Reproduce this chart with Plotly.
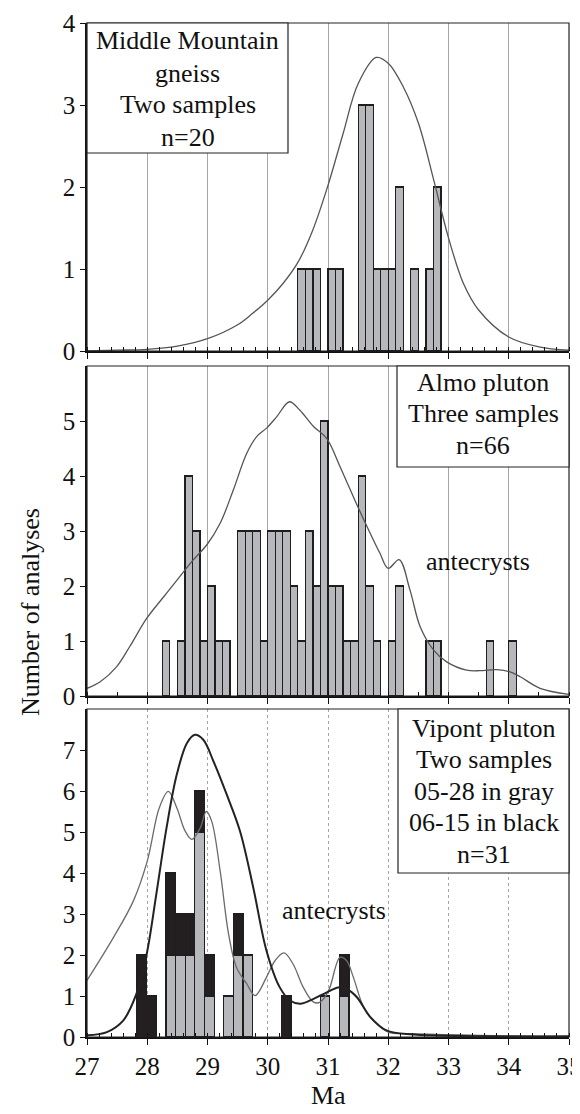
import plotly.graph_objects as go

# ---------------- data ----------------
# Top panel: Middle Mountain gneiss (bin width 0.125 Ma)
mm_bin_left = [30.5, 30.625, 30.75, 31.0, 31.125, 31.5, 31.625, 31.75, 31.875, 32.0, 32.125, 32.375, 32.625, 32.75]
mm_counts = [1, 1, 1, 1, 1, 3, 3, 1, 1, 1, 2, 1, 1, 2]
mm_curve_x = [27.0, 27.5, 28.0, 28.5, 29.0, 29.5, 29.75, 30.0, 30.25, 30.5, 30.75, 31.0, 31.25, 31.5, 31.8,
              32.0, 32.25, 32.5, 32.75, 33.0, 33.25, 33.5, 34.0, 34.5, 35.0]
mm_curve_y = [0.0, 0.01, 0.02, 0.06, 0.15, 0.32, 0.46, 0.62, 0.82, 1.08, 1.48, 2.02, 2.65, 3.26, 3.58,
              3.51, 3.22, 2.78, 2.1, 1.38, 0.82, 0.5, 0.17, 0.05, 0.01]

# Middle panel: Almo pluton (bin width 0.125 Ma)
al_bin_left = [28.25, 28.5, 28.625, 28.75, 28.875, 29.0, 29.125, 29.25, 29.5, 29.625, 29.75, 29.875,
               30.0, 30.125, 30.25, 30.375, 30.5, 30.625, 30.75, 30.875, 31.0, 31.125, 31.25, 31.375,
               31.5, 31.625, 31.75, 32.0, 32.125, 32.625, 32.75, 33.625, 34.0]
al_counts = [1, 1, 4, 3, 1, 2, 1, 1, 3, 3, 3, 1,
             3, 3, 3, 2, 1, 3, 2, 5, 2, 2, 1, 1,
             4, 2, 1, 1, 2, 1, 1, 1, 1]
al_curve_x = [27.0, 27.22, 27.49, 27.71, 27.99, 28.27, 28.54, 28.76, 28.99, 29.21, 29.43, 29.65,
              29.82, 29.98, 30.15, 30.36, 30.53, 30.76, 30.98, 31.2, 31.47, 31.70, 31.86, 32.0,
              32.18, 32.36, 32.53, 32.75, 32.97, 33.3, 33.52, 33.8, 34.02, 34.19, 34.52, 35.0]
al_curve_y = [0.14, 0.26, 0.53, 0.9, 1.41, 1.8, 2.17, 2.47, 2.75, 3.14, 3.75, 4.41,
              4.72, 4.87, 5.08, 5.35, 5.2, 4.9, 4.68, 4.17, 3.5, 2.96, 2.6, 2.32,
              2.48, 1.93, 1.26, 0.84, 0.62, 0.47, 0.46, 0.48, 0.44, 0.35, 0.14, 0.03]

# Bottom panel: Vipont pluton (bin width 0.16 Ma), 05-28 gray stacked under 06-15 black
vp_bin_left = [27.83, 27.99, 28.31, 28.47, 28.63, 28.79, 28.95, 29.27, 29.43, 29.59, 30.23, 30.87, 31.19]
vp_gray = [0, 0, 2, 2, 2, 5, 1, 1, 2, 2, 0, 1, 1]
vp_black = [2, 1, 2, 1, 1, 1, 1, 0, 1, 0, 1, 0, 1]
vp_gray_curve_x = [27.0, 27.44, 27.77, 28.0, 28.2, 28.35, 28.49, 28.63, 28.74, 28.88, 28.98, 29.07,
                   29.21, 29.35, 29.48, 29.65, 29.79, 29.98, 30.12, 30.27, 30.42, 30.59, 30.76, 30.87,
                   31.01, 31.2, 31.31, 31.42, 31.59, 31.75, 32.0, 32.42, 33.52, 35.0]
vp_gray_curve_y = [1.38, 2.43, 3.32, 4.29, 5.59, 5.99, 5.59, 5.02, 4.82, 5.1, 5.5, 5.26,
                   4.05, 2.51, 1.7, 1.3, 1.01, 1.46, 1.86, 2.05, 1.78, 1.21, 0.85, 0.85,
                   1.13, 1.94, 1.86, 1.46, 0.73, 0.4, 0.12, 0.08, 0.04, 0.01]
vp_black_curve_x = [27.0, 27.33, 27.6, 27.82, 27.99, 28.15, 28.32, 28.49, 28.66, 28.79, 28.93, 29.1,
                    29.32, 29.54, 29.76, 29.98, 30.2, 30.37, 30.54, 30.76, 30.98, 31.17, 31.31, 31.48,
                    31.7, 31.97, 32.42, 35.0]
vp_black_curve_y = [0.04, 0.12, 0.4, 1.05, 2.02, 3.48, 5.1, 6.4, 7.17, 7.37, 7.25, 6.72,
                    5.91, 5.02, 3.64, 2.1, 1.21, 0.89, 0.81, 0.93, 1.09, 1.21, 1.17, 0.97,
                    0.49, 0.16, 0.06, 0.02]

x_ticks = [27, 28, 29, 30, 31, 32, 33, 34, 35]

# ---------------- styling / layout ----------------
PAGE_OFF = 8            # browser body margin
W, H = 580 - PAGE_OFF, 1114 - PAGE_OFF
L, R, T, B = 87, 569, 23, 1037   # plot area in page pixels
FONT = "Liberation Serif"
BAR_GRAY = "#b6b8bc"
BAR_BLACK = "#231f20"
EDGE = "#1e1e1e"


def px(x):
    return (x - L) / (R - L)


def py(y):
    return (B - y) / (B - T)


def centers(lefts, w):
    return [v + w / 2 for v in lefts]


fig = go.Figure()

# top panel
fig.add_trace(go.Bar(x=centers(mm_bin_left, 0.125), y=mm_counts, width=0.125,
                     marker=dict(color=BAR_GRAY, line=dict(color=EDGE, width=1.2)),
                     xaxis="x", yaxis="y", showlegend=False))
fig.add_trace(go.Scatter(x=mm_curve_x, y=mm_curve_y, mode="lines",
                         line=dict(color="#555555", width=1.3, shape="spline"),
                         xaxis="x", yaxis="y", showlegend=False))
# middle panel
fig.add_trace(go.Bar(x=centers(al_bin_left, 0.125), y=al_counts, width=0.125,
                     marker=dict(color=BAR_GRAY, line=dict(color=EDGE, width=1.2)),
                     xaxis="x2", yaxis="y2", showlegend=False))
fig.add_trace(go.Scatter(x=al_curve_x, y=al_curve_y, mode="lines",
                         line=dict(color="#555555", width=1.3, shape="spline"),
                         xaxis="x2", yaxis="y2", showlegend=False))
# bottom panel
fig.add_trace(go.Bar(x=centers(vp_bin_left, 0.16), y=vp_gray, width=0.16,
                     marker=dict(color=BAR_GRAY, line=dict(color=EDGE, width=1.2)),
                     xaxis="x3", yaxis="y3", showlegend=False))
fig.add_trace(go.Bar(x=centers(vp_bin_left, 0.16), y=vp_black, width=0.16,
                     marker=dict(color=BAR_BLACK, line=dict(color=EDGE, width=1.2)),
                     xaxis="x3", yaxis="y3", showlegend=False))
fig.add_trace(go.Scatter(x=vp_gray_curve_x, y=vp_gray_curve_y, mode="lines",
                         line=dict(color="#6a6a6a", width=1.3, shape="spline"),
                         xaxis="x3", yaxis="y3", showlegend=False))
fig.add_trace(go.Scatter(x=vp_black_curve_x, y=vp_black_curve_y, mode="lines",
                         line=dict(color="#222222", width=2, shape="spline"),
                         xaxis="x3", yaxis="y3", showlegend=False))

tickfont = dict(family=FONT, size=25, color="#111111")


def xaxis(domain_anchor, minor_dtick, show_labels, griddash="solid"):
    return dict(range=[27, 35], domain=[0, 1], anchor=domain_anchor, automargin=False,
                tickvals=x_ticks, ticks="outside", ticklen=6, tickwidth=1.2, tickcolor="#111",
                showticklabels=show_labels, tickfont=tickfont, ticklabeloverflow="allow",
                showgrid=True, gridcolor="#a6a6a6", gridwidth=1, griddash=griddash,
                showline=True, linecolor="#111111", linewidth=2, zeroline=False,
                minor=dict(ticks="inside", dtick=minor_dtick, ticklen=4, tickwidth=1,
                           tickcolor="#111", showgrid=False))


def yaxis(domain, rng, tickvals, anchor):
    return dict(range=rng, domain=domain, anchor=anchor, tickvals=tickvals, automargin=False,
                ticks="outside", ticklen=5, tickwidth=1.2, tickcolor="#111",
                tickfont=tickfont, showgrid=False, zeroline=False,
                showline=True, linecolor="#111111", linewidth=1.6)


fig.update_layout(
    width=W, height=H,
    margin=dict(l=L - PAGE_OFF, r=580 - R, t=T - PAGE_OFF, b=1114 - B, autoexpand=False),
    paper_bgcolor="white", plot_bgcolor="white",
    barmode="stack", showlegend=False,
    font=dict(family=FONT, color="#111111"),
    xaxis=xaxis("y", 0.2, False),
    yaxis=yaxis([py(351), 1.0], [0, 4], [0, 1, 2, 3, 4], "x"),
    xaxis2=xaxis("y2", 0.5, False),
    yaxis2=yaxis([py(696), py(366)], [0, 6], [0, 1, 2, 3, 4, 5], "x2"),
    xaxis3=xaxis("y3", 0.2, True, griddash="dot"),
    yaxis3=yaxis([0, py(709)], [0, 8], [0, 1, 2, 3, 4, 5, 6, 7], "x3"),
)

shapes = []
# panel frames
for xa, ya in [("x", "y"), ("x2", "y2"), ("x3", "y3")]:
    shapes.append(dict(type="rect", xref=f"{xa} domain", yref=f"{ya} domain",
                       x0=0, x1=1, y0=0, y1=1, line=dict(color="#222222", width=1.2),
                       layer="above"))
# label boxes
for (x0, y0, x1, y1) in [(87, 23, 288, 153), (397, 366, 569, 467), (398, 709, 569, 873)]:
    shapes.append(dict(type="rect", xref="paper", yref="paper",
                       x0=px(x0), x1=px(x1), y0=py(y1), y1=py(y0),
                       line=dict(color="#222222", width=1.2), fillcolor="white",
                       layer="above"))
fig.update_layout(shapes=shapes)

ann_font = dict(family=FONT, size=26, color="#111111")
annotations = []


def add_lines(lines, cx, first_center, step):
    for i, txt in enumerate(lines):
        annotations.append(dict(text=txt, x=px(cx), y=py(first_center + i * step),
                                xref="paper", yref="paper", showarrow=False,
                                xanchor="center", yanchor="middle", font=ann_font))


add_lines(["Middle Mountain", "gneiss", "Two samples", "n=20"], 187.5, 41, 32)
add_lines(["Almo pluton", "Three samples", "n=66"], 483, 382, 31.7)
add_lines(["Vipont pluton", "Two samples", "05-28 in gray", "06-15 in black", "n=31"], 483.5, 728, 31.5)
add_lines(["antecrysts"], 478, 561, 0)
add_lines(["antecrysts"], 334, 910, 0)

annotations.append(dict(text="Number of analyses", x=px(30), y=py(612), xref="paper", yref="paper",
                        showarrow=False, textangle=-90, xanchor="center", yanchor="middle",
                        font=ann_font))
annotations.append(dict(text="Ma", x=px(328), y=py(1095), xref="paper", yref="paper",
                        showarrow=False, xanchor="center", yanchor="middle", font=ann_font))
fig.update_layout(annotations=annotations)

fig.write_html("out.html")
